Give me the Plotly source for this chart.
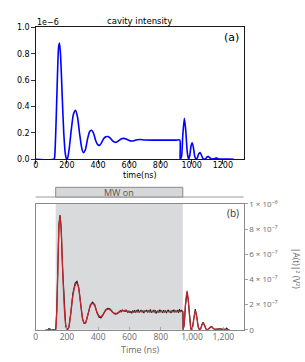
import plotly.graph_objects as go

W, H = 305, 362

# ---------------- Data (intensity values in units of 1e-6) ----------------
# Panel (a): simulated cavity intensity
sim_time = [0, 118, 122, 130, 140, 147, 153, 160, 170, 180, 190, 198, 205, 215, 228, 242,
            255, 268, 282, 296, 306, 318, 332, 346, 357, 370, 385, 398, 408, 420, 435, 450,
            463, 478, 495, 510, 520, 535, 550, 565, 580, 600, 615, 630, 650, 670, 700, 750,
            800, 850, 900, 924, 926, 935, 943, 953, 962, 972, 980, 988, 996, 1003, 1011, 1020,
            1028, 1036, 1045, 1054, 1063, 1072, 1080, 1090, 1100, 1107, 1115, 1125, 1140, 1155,
            1162, 1170, 1185, 1210, 1240, 1270]
sim_intensity = [0, 0, 0.02, 0.25, 0.65, 0.85, 0.88, 0.78, 0.48, 0.2, 0.04, 0.0, 0.01, 0.08,
                 0.22, 0.34, 0.37, 0.32, 0.19, 0.08, 0.05, 0.07, 0.15, 0.21, 0.22, 0.2, 0.14,
                 0.11, 0.105, 0.12, 0.155, 0.17, 0.172, 0.16, 0.137, 0.128, 0.13, 0.143, 0.155,
                 0.158, 0.153, 0.142, 0.138, 0.14, 0.147, 0.149, 0.146, 0.145, 0.145, 0.145,
                 0.145, 0.145, 0.0, 0.02, 0.18, 0.31, 0.22, 0.05, 0.0, 0.03, 0.1, 0.125, 0.09,
                 0.02, 0.0, 0.01, 0.04, 0.05, 0.03, 0.005, 0.0, 0.006, 0.018, 0.02, 0.012, 0.002,
                 0.003, 0.008, 0.008, 0.004, 0.001, 0.002, 0.001, 0.0]

# Panel (b): fit (red)
fit_time = [126, 128, 135, 142, 149, 156, 163, 172, 182, 192, 202, 212, 224, 238, 252, 264,
            275, 288, 300, 310, 320, 334, 350, 364, 378, 392, 406, 418, 432, 448, 462, 476,
            492, 508, 522, 538, 555, 572, 595, 620, 650, 700, 750, 800, 850, 900, 940, 943,
            950, 958, 968, 976, 986, 994, 1002, 1012, 1021, 1030, 1040, 1048, 1056, 1064,
            1071, 1080, 1090, 1098, 1108, 1117, 1125, 1135, 1145, 1160, 1180, 1200, 1230]
fit_intensity = [0, 0, 0.15, 0.5, 0.82, 0.9, 0.8, 0.5, 0.2, 0.04, 0.0, 0.02, 0.12, 0.27, 0.35,
                 0.37, 0.33, 0.2, 0.09, 0.055, 0.06, 0.12, 0.19, 0.21, 0.19, 0.14, 0.11, 0.105,
                 0.125, 0.155, 0.165, 0.16, 0.14, 0.13, 0.132, 0.143, 0.152, 0.152, 0.145, 0.142,
                 0.145, 0.146, 0.145, 0.145, 0.145, 0.145, 0.145, 0.0, 0.05, 0.2, 0.31, 0.24,
                 0.08, 0.0, 0.01, 0.09, 0.15, 0.1, 0.02, 0.0, 0.01, 0.04, 0.055, 0.035, 0.005,
                 0.0, 0.01, 0.022, 0.025, 0.012, 0.003, 0.004, 0.006, 0.003, 0.001]

# Panel (b): measured data (black)
meas_time = [62, 80, 85, 88, 92, 100, 115, 126, 128, 135, 142, 149, 156, 163, 172, 182, 192,
             202, 212, 224, 238, 252, 264, 275, 288, 300, 310, 320, 334, 350, 364, 378, 392,
             406, 418, 432, 448, 462, 476, 492, 508, 522,
             530, 536, 542, 548, 554, 560, 566, 572, 578, 584, 590, 596, 602, 608, 614, 620,
             626, 632, 638, 644, 650, 656, 662, 668, 674, 680, 686, 692, 698, 704, 710, 716,
             722, 728, 734, 740, 746, 752, 758, 764, 770, 776, 782, 788, 794, 800, 806, 812,
             818, 824, 830, 836, 842, 848, 854, 860, 866, 872, 878, 884, 890, 896, 902, 908,
             914, 920, 926, 932, 938, 941, 943, 950, 958, 968, 976, 986, 994, 1002, 1012,
             1021, 1030, 1040, 1048, 1056, 1064, 1071, 1080, 1090, 1098, 1108, 1117, 1125,
             1135, 1145, 1160, 1180, 1200, 1215, 1222, 1228, 1240]
meas_intensity = [0, 0.002, 0.012, -0.004, 0.006, 0.001, 0.003, 0, 0.0, 0.16, 0.52, 0.84,
                  0.91, 0.81, 0.49, 0.19, 0.03, 0.0, 0.02, 0.13, 0.29, 0.37, 0.385, 0.34, 0.2,
                  0.085, 0.05, 0.055, 0.12, 0.2, 0.22, 0.2, 0.135, 0.1, 0.095, 0.12, 0.16,
                  0.17, 0.165, 0.14, 0.125, 0.128,
                  0.138, 0.146, 0.152, 0.141, 0.158, 0.149, 0.155, 0.143, 0.16, 0.147, 0.139,
                  0.151, 0.136, 0.148, 0.132, 0.15, 0.141, 0.155, 0.138, 0.152, 0.144, 0.161,
                  0.137, 0.149, 0.155, 0.14, 0.153, 0.133, 0.151, 0.146, 0.158, 0.139, 0.15,
                  0.143, 0.162, 0.136, 0.149, 0.154, 0.14, 0.157, 0.131, 0.148, 0.152, 0.138,
                  0.16, 0.144, 0.15, 0.135, 0.156, 0.142, 0.153, 0.137, 0.149, 0.158, 0.141,
                  0.152, 0.134, 0.155, 0.146, 0.16, 0.139, 0.151, 0.143, 0.157, 0.136, 0.164,
                  0.142, 0.155, 0.147, 0.15, 0.0, 0.04, 0.19, 0.3, 0.23, 0.07, 0.0, 0.015, 0.1,
                  0.165, 0.11, 0.025, 0.0, 0.012, 0.045, 0.06, 0.038, 0.006, 0.0, 0.012, 0.024,
                  0.027, 0.014, 0.004, 0.006, 0.008, 0.004, 0.006, 0.014, 0.004, 0.002]

mw_on_start, mw_on_end = 128, 941

top_ticks = [0, 200, 400, 600, 800, 1000, 1200]
top_yticks = [0.0, 0.2, 0.4, 0.6, 0.8, 1.0]
top_yticktext = ["0.0", "0.2", "0.4", "0.6", "0.8", "1.0"]
bot_xticktext = ["0", "200", "400", "600", "800", "1,000", "1,200"]
bot_yticks = [0.0, 0.2, 0.4, 0.6, 0.8, 1.0]
bot_yticktext = ["0", "2 × 10⁻⁷", "4 × 10⁻⁷", "6 × 10⁻⁷", "8 × 10⁻⁷", "1 × 10⁻⁶"]

# ---------------- Layout helpers ----------------
def px_x(p):
    return p / W

def px_y(p):
    return 1 - p / H

MPL = "DejaVu Sans"
GRAYF = "Open Sans"
GRAY = "#8a8a8a"
GRAYTXT = "#6a6a6a"

fig = go.Figure()

fig.add_trace(go.Scatter(x=sim_time, y=sim_intensity, mode="lines",
                         line=dict(color="#0000ff", width=1.6, shape="spline", smoothing=0.6),
                         xaxis="x", yaxis="y", showlegend=False, hoverinfo="skip"))

fig.add_trace(go.Scatter(x=meas_time, y=meas_intensity, mode="lines",
                         line=dict(color="#1a1a1a", width=1.1),
                         xaxis="x2", yaxis="y2", showlegend=False, hoverinfo="skip"))
fig.add_trace(go.Scatter(x=fit_time, y=fit_intensity, mode="lines",
                         line=dict(color="#c4262e", width=1.3, shape="spline", smoothing=0.6),
                         xaxis="x2", yaxis="y2", showlegend=False, hoverinfo="skip"))

fig.update_layout(
    width=W, height=H,
    margin=dict(l=0, r=0, t=0, b=0),
    paper_bgcolor="white", plot_bgcolor="white",
    hovermode=False,
    xaxis=dict(domain=[px_x(33), px_x(243)], anchor="y", range=[0, 1333],
               tickvals=top_ticks, ticks="outside", ticklen=3.5, tickwidth=0.8,
               tickcolor="black", showline=True, linecolor="black", linewidth=0.9,
               mirror=True, showgrid=False, zeroline=False, ticklabelstandoff=-5,
               tickfont=dict(family=MPL, size=8, color="black")),
    yaxis=dict(domain=[px_y(158), px_y(22)], anchor="x", range=[0, 1.0],
               tickvals=top_yticks, ticktext=top_yticktext, ticks="outside", ticklen=3.5,
               tickwidth=0.8, tickcolor="black", showline=True, linecolor="black",
               linewidth=0.9, mirror=True, showgrid=False, zeroline=False,
               tickfont=dict(family=MPL, size=8, color="black")),
    xaxis2=dict(domain=[px_x(33), px_x(243)], anchor="y2", range=[0, 1330],
                tickvals=top_ticks, ticktext=bot_xticktext, ticks="inside", ticklen=3,
                tickwidth=0.8, tickcolor="#9a9a9a", showline=True, linecolor=GRAY,
                linewidth=1, mirror=True, showgrid=False, zeroline=False,
                ticklabelstandoff=-1,
                tickfont=dict(family=GRAYF, size=8.5, color=GRAYTXT)),
    yaxis2=dict(domain=[px_y(334), px_y(204)], anchor="x2", side="right", range=[0, 1.0],
                tickvals=bot_yticks, ticktext=bot_yticktext, ticks="outside", ticklen=3,
                tickwidth=0.8, tickcolor=GRAY, showline=True, linecolor=GRAY, linewidth=1,
                mirror=True, showgrid=False, zeroline=False,
                tickfont=dict(family=GRAYF, size=8, color=GRAYTXT)),
    shapes=[
        dict(type="rect", xref="x2", yref="y2 domain", x0=mw_on_start, x1=mw_on_end,
             y0=0, y1=1, fillcolor="#d9dadc", line=dict(width=0), layer="below"),
        dict(type="line", xref="paper", yref="paper", x0=px_x(33), x1=px_x(243),
             y0=px_y(197), y1=px_y(197), line=dict(color="#9a9a9a", width=1)),
        dict(type="rect", xref="x2", yref="paper", x0=mw_on_start, x1=mw_on_end,
             y0=px_y(197), y1=px_y(187), fillcolor="#d6d7d9",
             line=dict(color="#8a8a8a", width=1)),
    ],
    annotations=[
        dict(text="cavity intensity", xref="paper", yref="paper", x=px_x(138), y=px_y(15),
             showarrow=False, font=dict(family=MPL, size=8.5, color="black"),
             xanchor="center", yanchor="middle"),
        dict(text="1e−6", xref="paper", yref="paper", x=px_x(32), y=px_y(17),
             showarrow=False, font=dict(family=MPL, size=8, color="black"),
             xanchor="left", yanchor="middle"),
        dict(text="(a)", xref="paper", yref="paper", x=px_x(240), y=px_y(32),
             showarrow=False, font=dict(family=MPL, size=11, color="black"),
             xanchor="right", yanchor="middle"),
        dict(text="time(ns)", xref="paper", yref="paper", x=px_x(138), y=px_y(175),
             showarrow=False, font=dict(family=MPL, size=8, color="black"),
             xanchor="center", yanchor="middle"),
        dict(text="MW on", xref="x2", yref="paper", x=(mw_on_start + mw_on_end) / 2,
             y=px_y(192), showarrow=False, font=dict(family=GRAYF, size=9, color="#555555"),
             xanchor="center", yanchor="middle"),
        dict(text="(b)", xref="paper", yref="paper", x=px_x(240), y=px_y(214),
             showarrow=False, font=dict(family=GRAYF, size=10, color="#333333"),
             xanchor="right", yanchor="middle"),
        dict(text="Time (ns)", xref="paper", yref="paper", x=px_x(138), y=px_y(354),
             showarrow=False, font=dict(family=GRAYF, size=9, color=GRAYTXT),
             xanchor="center", yanchor="middle"),
        dict(text="|A(t)|² (V²)", xref="paper", yref="paper", x=px_x(296), y=px_y(270),
             showarrow=False, textangle=90, font=dict(family=GRAYF, size=8.5, color=GRAYTXT),
             xanchor="center", yanchor="middle"),
    ],
)

fig.write_html("out.html", config={"displayModeBar": False, "staticPlot": True},
               post_script="document.body.style.margin='0';document.body.style.padding='0';")
